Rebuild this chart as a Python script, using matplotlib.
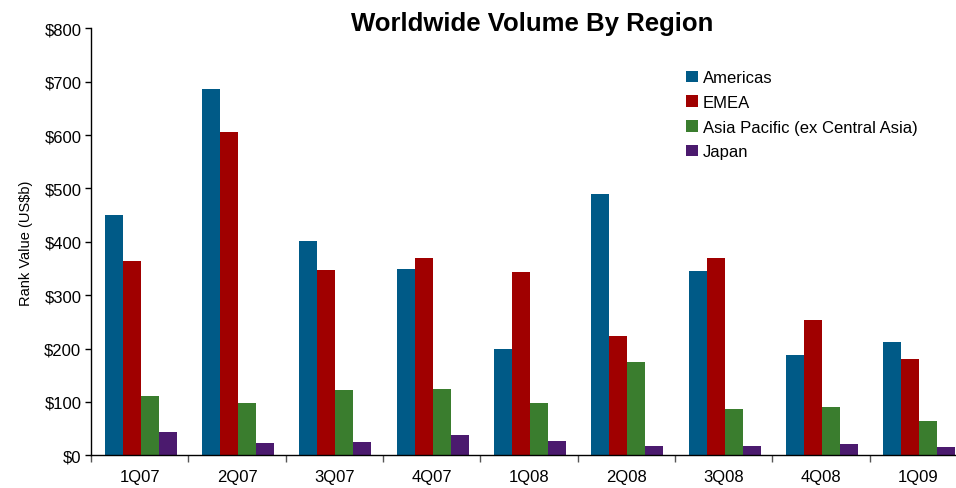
import numpy as np
import matplotlib.pyplot as plt

plt.rcParams['font.family'] = ['Liberation Sans', 'DejaVu Sans']

# quarterly rank value by region (US$b)
quarters = ['1Q07', '2Q07', '3Q07', '4Q07', '1Q08', '2Q08', '3Q08', '4Q08', '1Q09']
americas = [450, 686, 401, 349, 199, 490, 345, 188, 212]
emea = [364, 605, 347, 369, 343, 223, 369, 253, 181]
asia_pac = [111, 98, 122, 124, 98, 175, 87, 90, 64]
japan = [44, 23, 25, 38, 27, 18, 18, 21, 16]

series = [('Americas', americas, '#005a87'),
          ('EMEA', emea, '#a00000'),
          ('Asia Pacific (ex Central Asia)', asia_pac, '#3a7d2e'),
          ('Japan', japan, '#4b1a6e')]

fig = plt.figure(figsize=(9.56, 4.89), dpi=100)
# axes runs a little past the right edge of the figure
ax = fig.add_axes([0.0952, 0.0669, 0.9163, 0.873])

x = np.arange(len(quarters))
w = 0.185
for i, (name, vals, col) in enumerate(series):
    ax.bar(x - 1.5 * w + i * w + 0.01, vals, w, color=col, label=name)

ax.set_xlim(-0.5, len(quarters) - 0.5)
ax.set_ylim(0, 800)
ax.set_yticks(range(0, 801, 100))
ax.set_yticklabels(['$%d' % v for v in range(0, 801, 100)], fontsize=12)
ax.set_xticks(x)
ax.set_xticklabels(quarters, fontsize=12)
ax.tick_params(axis='x', length=0, pad=10)
ax.set_xticks(np.arange(-0.5, len(quarters)), minor=True)
ax.tick_params(axis='x', which='minor', length=5, color='#555555', width=1)
ax.tick_params(axis='y', length=4, width=1, pad=3)

for s in ['top', 'right']:
    ax.spines[s].set_visible(False)
ax.spines['left'].set_linewidth(1)
ax.spines['bottom'].set_linewidth(1)

ax.set_ylabel('Rank Value (US$b)', fontsize=10.5, labelpad=8)

fig.text(0.557, 0.951, 'Worldwide Volume By Region', ha='center', va='center',
         fontsize=18.5, fontweight='bold')

fig.legend(loc='upper left', bbox_to_anchor=(0.711, 0.868), frameon=False,
           fontsize=12, handlelength=0.7, handleheight=0.7,
           handletextpad=0.3, labelspacing=0.58, borderaxespad=0)

fig.savefig('out.png', dpi=100)
